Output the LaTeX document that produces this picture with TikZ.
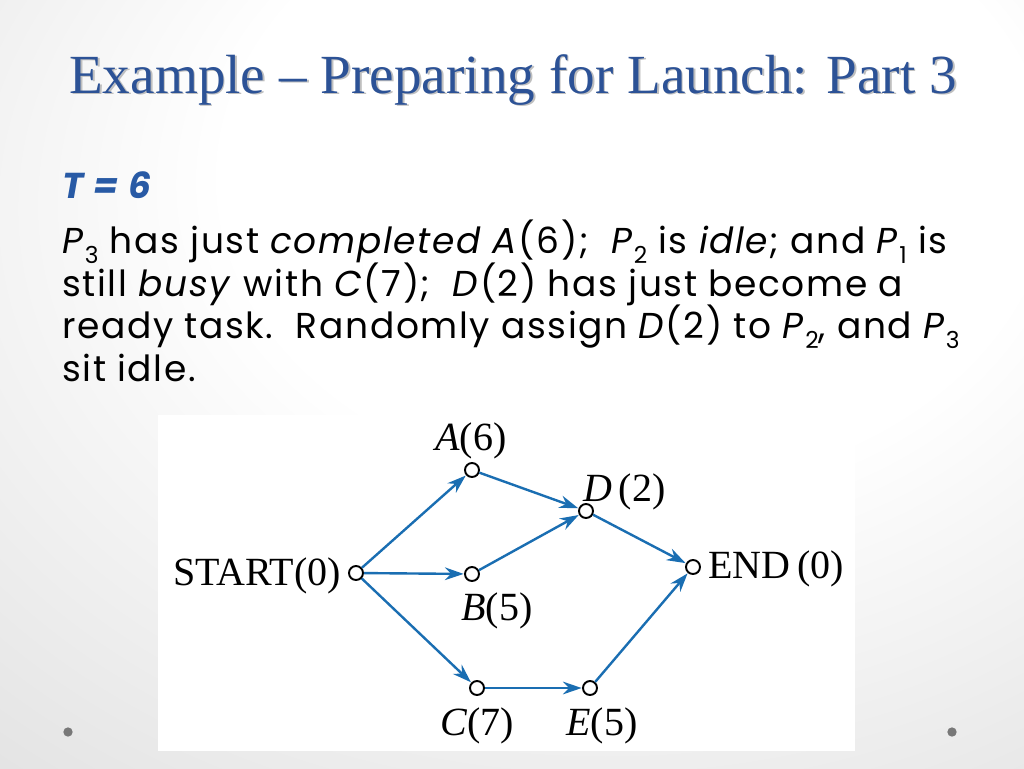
\documentclass[tikz,border=0pt]{standalone}
\usepackage{fontspec}
\setmainfont{Liberation Serif}
\newfontfamily\bodyfont[LetterSpace=4.5]{Poppins}
\usetikzlibrary{arrows.meta}
\definecolor{titleblue}{RGB}{44,82,150}
\definecolor{tblue}{RGB}{40,90,165}
\definecolor{edgeblue}{RGB}{26,110,178}
\definecolor{dotgray}{RGB}{120,120,120}
\pgfdeclareradialshading{slidebg}{\pgfpoint{8bp}{18bp}}{color(0bp)=(white); color(20bp)=(white); color(58bp)=(black!17); color(80bp)=(black!19)}
\newcommand\Pk[1]{\textit{P}\raisebox{-0.3em}{\fontsize{17.5}{17.5}\selectfont #1}}
\tikzset{
  vtx/.style={circle, draw=black, fill=white, line width=1.45pt, minimum size=10.5pt, inner sep=0pt},
  lbl/.style={font=\fontsize{30}{30}\selectfont, inner sep=0pt},
  edge/.style={draw=edgeblue, line width=1.8pt, -{Stealth[length=14pt,width=9.5pt]}, shorten >=0.3pt},
  bodyline/.style={font=\bodyfont\fontsize{27}{30}\selectfont, anchor=base west, inner sep=0pt},
  gdot/.style={circle, fill=dotgray, minimum size=7pt, inner sep=0pt}
}
\begin{document}
\begin{tikzpicture}[x=0.75pt,y=-0.75pt]
\useasboundingbox (0,0) rectangle (1024,768);
\shade[shading=slidebg] (0,0) rectangle (1024,768);
% title
\node[anchor=base west, inner sep=0pt, text=black!25, font=\fontsize{41.4}{42}\selectfont] at (70.8,94.8) {Example – Preparing for Launch: Part 3};
\node[anchor=base west, inner sep=0pt, text=titleblue, font=\fontsize{41.4}{42}\selectfont] (title) at (69,93) {Example – Preparing for Launch: Part 3};
% body text
\node[bodyline, text=tblue, font=\bodyfont\bfseries\itshape\fontsize{27}{30}\selectfont] (t6) at (62,198) {T = 6};
\node[bodyline] (l1) at (62,253) {\Pk{3} has just \textit{completed A}(6);\ \ \Pk{2} is \textit{idle}; and \Pk{1} is};
\node[bodyline] (l2) at (62,296) {still \textit{busy} with \textit{C}(7);\ \ \textit{D}(2) has just become a};
\node[bodyline] (l3) at (62,338) {ready task.\ \ Randomly assign \textit{D}(2) to \Pk{2}, and \Pk{3}};
\node[bodyline] (l4) at (62,381) {sit idle.};
% dots
\node[gdot] (dl) at (68,732) {};
\node[gdot] (dr) at (952,732) {};
% diagram panel
\fill[white] (158,415) rectangle (855,751);
\node[vtx] (S) at (356,573) {};
\node[vtx] (A) at (472,470) {};
\node[vtx] (B) at (472,574) {};
\node[vtx] (D) at (586,511) {};
\node[vtx] (N) at (693,567) {};
\node[vtx] (C) at (477,688) {};
\node[vtx] (E) at (590,688) {};
\node[lbl, anchor=base east] (Sl) at (341,585) {START(0)};
\node[lbl, anchor=base] (Al) at (471,450) {\textit{A}(6)};
\node[lbl, anchor=base] (Bl) at (497,620) {\textit{B}(5)};
\node[lbl, anchor=base west] (Dl) at (583,501) {\textit{D}\,(2)};
\node[lbl, anchor=base west] (Nl) at (708,578) {END\,(0)};
\node[lbl, anchor=base] (Cl) at (477,735) {\textit{C}(7)};
\node[lbl, anchor=base] (El) at (602,735) {\textit{E}(5)};
\draw[edge] (S) -- (A);
\draw[edge] (S) -- (B);
\draw[edge] (S) -- (C);
\draw[edge] (A) -- (D);
\draw[edge] (B) -- (D);
\draw[edge] (D) -- (N);
\draw[edge] (C) -- (E);
\draw[edge] (E) -- (N);
\end{tikzpicture}
\end{document}
